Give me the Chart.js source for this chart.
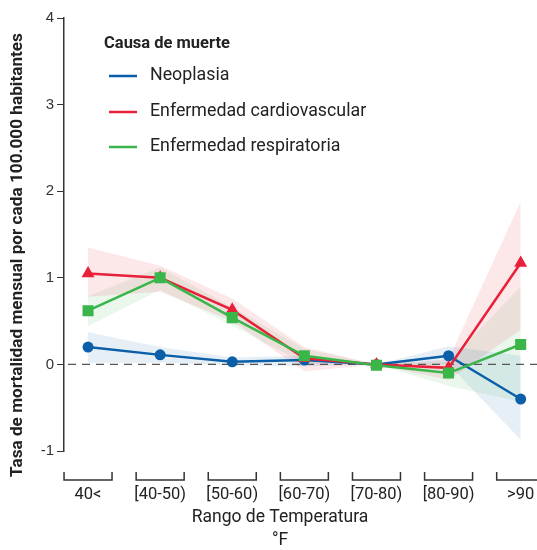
<!DOCTYPE html>
<html>
<head>
<meta charset="utf-8">
<script src="https://cdn.jsdelivr.net/npm/chart.js@4/dist/chart.umd.min.js"></script>
<style>
  html, body { margin: 0; padding: 0; background: #fff; }
  #wrap { width: 537px; height: 550px; position: relative; }
</style>
</head>
<body>
<div id="wrap"><canvas id="c" width="537" height="550"></canvas></div>
<script>
// Temperature ranges (°F)
const categories = ['40<', '[40-50)', '[50-60)', '[60-70)', '[70-80)', '[80-90)', '>90'];

// Monthly mortality rate change per 100,000 inhabitants, with confidence bands
const neoplasia   = [0.20, 0.11, 0.03, 0.05, 0.00, 0.10, -0.40];
const neoplasiaLo = [0.02, 0.02, -0.01, -0.02, 0.00, 0.00, -0.87];
const neoplasiaHi = [0.37, 0.20, 0.08, 0.10, 0.00, 0.21, 0.10];

const cardio   = [1.05, 1.00, 0.63, 0.07, 0.00, -0.04, 1.17];
const cardioLo = [0.78, 0.84, 0.50, -0.08, 0.00, -0.18, 0.40];
const cardioHi = [1.35, 1.14, 0.76, 0.20, 0.00, 0.06, 1.88];

const resp   = [0.62, 1.00, 0.54, 0.10, -0.01, -0.10, 0.23];
const respLo = [0.44, 0.86, 0.45, 0.01, 0.00, -0.25, -0.43];
const respHi = [0.79, 1.12, 0.66, 0.18, 0.00, 0.03, 0.90];

const yTicks = [-1, 0, 1, 2, 3, 4];

const seriesNames = ['Neoplasia', 'Enfermedad cardiovascular', 'Enfermedad respiratoria'];
const legendTitle = 'Causa de muerte';
const xTitle = 'Rango de Temperatura';
const xUnit = '°F';
const yTitle = 'Tasa de mortalidad mensual por cada 100.000 habitantes';

const BLUE = '#0b5ea8', RED = '#e8203a', GREEN = '#3ab54a';
const TXT = '#222';
const FONT = 'Roboto, "Noto Sans", sans-serif';

const pts = arr => arr.map((v, i) => ({ x: i, y: v }));

function band(lo, hi, fillColor) {
  return [
    { data: pts(hi), borderWidth: 0, pointRadius: 0, fill: false, order: 10 },
    { data: pts(lo), borderWidth: 0, pointRadius: 0, fill: '-1', backgroundColor: fillColor, order: 10 }
  ];
}
function series(data, color, style, radius, order) {
  return {
    data: pts(data), borderColor: color, backgroundColor: color, borderWidth: 2.5,
    pointStyle: style, pointRadius: radius, pointHoverRadius: radius,
    pointBorderWidth: 0, fill: false, order: order
  };
}

const datasets = [
  ...band(neoplasiaLo, neoplasiaHi, 'rgba(11,94,168,0.10)'),
  ...band(cardioLo, cardioHi, 'rgba(232,32,58,0.11)'),
  ...band(respLo, respHi, 'rgba(58,181,74,0.10)'),
  series(neoplasia, BLUE, 'circle', 5.5, 3),
  series(cardio, RED, 'triangle', 7.5, 2),
  series(resp, GREEN, 'rect', 7.8, 1)
];

// Dashed zero line, bracketed category axis, titles and the legend box
const decorations = {
  id: 'decorations',
  beforeDatasetsDraw(chart) {
    const { ctx, chartArea, scales: { y } } = chart;
    const y0 = y.getPixelForValue(0);
    ctx.save();
    ctx.strokeStyle = '#555';
    ctx.lineWidth = 1.2;
    ctx.setLineDash([8, 6]);
    ctx.beginPath();
    ctx.moveTo(chartArea.left + 4, y0);
    ctx.lineTo(chart.width, y0);
    ctx.stroke();
    ctx.restore();
  },
  afterDraw(chart) {
    const { ctx, scales: { x } } = chart;
    ctx.save();
    // category brackets and labels
    ctx.strokeStyle = '#333';
    ctx.lineWidth = 1.5;
    ctx.fillStyle = TXT;
    ctx.font = '16.5px ' + FONT;
    ctx.textAlign = 'center';
    ctx.textBaseline = 'middle';
    categories.forEach((c, i) => {
      const cx = x.getPixelForValue(i);
      ctx.beginPath();
      ctx.moveTo(cx - 24, 472);
      ctx.lineTo(cx - 24, 480);
      ctx.lineTo(cx + 24, 480);
      ctx.lineTo(cx + 24, 472);
      ctx.stroke();
      ctx.fillText(c, cx, 495);
    });
    ctx.font = '17.5px ' + FONT;
    ctx.fillText(xTitle, 280, 518);
    ctx.fillText(xUnit, 280, 541);

    // y axis title, sized to span its full length
    ctx.save();
    ctx.translate(18, 255);
    ctx.rotate(-Math.PI / 2);
    ctx.font = 'bold 14px ' + FONT;
    const size = 14 * 444 / ctx.measureText(yTitle).width;
    ctx.font = 'bold ' + size.toFixed(2) + 'px ' + FONT;
    ctx.fillText(yTitle, 0, 0);
    ctx.restore();

    // legend
    ctx.textAlign = 'left';
    ctx.font = 'bold 16.5px ' + FONT;
    ctx.fillText(legendTitle, 104, 44);
    ctx.font = '17.8px ' + FONT;
    const colors = [BLUE, RED, GREEN];
    const rows = [76, 112, 147];
    seriesNames.forEach((n, i) => {
      ctx.strokeStyle = colors[i];
      ctx.lineWidth = 2.5;
      ctx.beginPath();
      ctx.moveTo(109, rows[i]);
      ctx.lineTo(137, rows[i]);
      ctx.stroke();
      ctx.fillText(n, 150, rows[i]);
    });
    ctx.restore();
  }
};

new Chart(document.getElementById('c'), {
  type: 'line',
  data: { datasets },
  options: {
    responsive: false,
    animation: false,
    events: [],
    layout: { padding: { top: 18, right: 0, bottom: 99, left: 0 } },
    plugins: {
      legend: { display: false },
      tooltip: { enabled: false },
      filler: { drawTime: 'beforeDatasetsDraw' }
    },
    scales: {
      x: { type: 'linear', min: -1 / 3, max: 6.118, display: false },
      y: {
        min: yTicks[0], max: yTicks[yTicks.length - 1],
        afterBuildTicks(scale) { scale.ticks = yTicks.map(v => ({ value: v })); },
        afterFit(scale) { scale.width = 64; },
        ticks: {
          font: { family: '"Liberation Sans", Arial, sans-serif', size: 15 },
          color: '#333', padding: 3,
          callback: v => String(v)
        },
        grid: { drawOnChartArea: false, drawTicks: true, tickLength: 7, color: '#333', lineWidth: 1 },
        border: { display: true, color: '#333', width: 1.5 }
      }
    }
  },
  plugins: [decorations]
});
</script>
</body>
</html>
